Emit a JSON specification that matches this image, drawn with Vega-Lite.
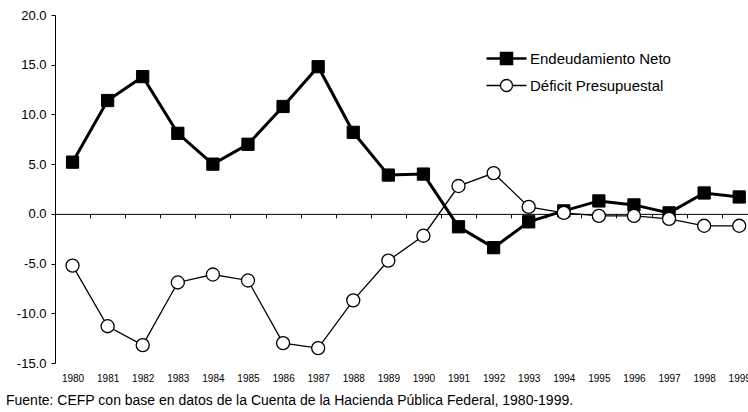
{
  "$schema": "https://vega.github.io/schema/vega-lite/v6.json",
  "width": 693,
  "height": 348,
  "autosize": {"type": "none"},
  "padding": {"left": 55, "top": 15, "right": 0, "bottom": 49},
  "background": "white",
  "title": {
    "text": "Fuente: CEFP con base en datos de la Cuenta de la Hacienda Pública Federal, 1980-1999.",
    "orient": "bottom",
    "anchor": "start",
    "frame": "group",
    "dx": -49,
    "offset": 11,
    "fontSize": 14,
    "fontWeight": "normal",
    "color": "black",
    "font": "Liberation Sans"
  },
  "data": {
    "values": [
      {"year": 1980, "serie": "Endeudamiento Neto", "value": 5.2},
      {"year": 1981, "serie": "Endeudamiento Neto", "value": 11.4},
      {"year": 1982, "serie": "Endeudamiento Neto", "value": 13.8},
      {"year": 1983, "serie": "Endeudamiento Neto", "value": 8.1},
      {"year": 1984, "serie": "Endeudamiento Neto", "value": 5.0},
      {"year": 1985, "serie": "Endeudamiento Neto", "value": 7.0},
      {"year": 1986, "serie": "Endeudamiento Neto", "value": 10.8},
      {"year": 1987, "serie": "Endeudamiento Neto", "value": 14.8},
      {"year": 1988, "serie": "Endeudamiento Neto", "value": 8.2},
      {"year": 1989, "serie": "Endeudamiento Neto", "value": 3.9},
      {"year": 1990, "serie": "Endeudamiento Neto", "value": 4.0},
      {"year": 1991, "serie": "Endeudamiento Neto", "value": -1.3},
      {"year": 1992, "serie": "Endeudamiento Neto", "value": -3.4},
      {"year": 1993, "serie": "Endeudamiento Neto", "value": -0.8},
      {"year": 1994, "serie": "Endeudamiento Neto", "value": 0.3},
      {"year": 1995, "serie": "Endeudamiento Neto", "value": 1.3},
      {"year": 1996, "serie": "Endeudamiento Neto", "value": 0.9},
      {"year": 1997, "serie": "Endeudamiento Neto", "value": 0.1},
      {"year": 1998, "serie": "Endeudamiento Neto", "value": 2.1},
      {"year": 1999, "serie": "Endeudamiento Neto", "value": 1.7},
      {"year": 1980, "serie": "Déficit Presupuestal", "value": -5.2},
      {"year": 1981, "serie": "Déficit Presupuestal", "value": -11.3},
      {"year": 1982, "serie": "Déficit Presupuestal", "value": -13.2},
      {"year": 1983, "serie": "Déficit Presupuestal", "value": -6.9},
      {"year": 1984, "serie": "Déficit Presupuestal", "value": -6.1},
      {"year": 1985, "serie": "Déficit Presupuestal", "value": -6.7},
      {"year": 1986, "serie": "Déficit Presupuestal", "value": -13.0},
      {"year": 1987, "serie": "Déficit Presupuestal", "value": -13.5},
      {"year": 1988, "serie": "Déficit Presupuestal", "value": -8.7},
      {"year": 1989, "serie": "Déficit Presupuestal", "value": -4.7},
      {"year": 1990, "serie": "Déficit Presupuestal", "value": -2.2},
      {"year": 1991, "serie": "Déficit Presupuestal", "value": 2.8},
      {"year": 1992, "serie": "Déficit Presupuestal", "value": 4.1},
      {"year": 1993, "serie": "Déficit Presupuestal", "value": 0.7},
      {"year": 1994, "serie": "Déficit Presupuestal", "value": 0.1},
      {"year": 1995, "serie": "Déficit Presupuestal", "value": -0.2},
      {"year": 1996, "serie": "Déficit Presupuestal", "value": -0.2},
      {"year": 1997, "serie": "Déficit Presupuestal", "value": -0.5},
      {"year": 1998, "serie": "Déficit Presupuestal", "value": -1.2},
      {"year": 1999, "serie": "Déficit Presupuestal", "value": -1.2}
    ]
  },
  "layer": [
    {
      "transform": [{"filter": "datum.serie === 'Endeudamiento Neto'"}],
      "mark": {"type": "line", "color": "black", "strokeWidth": 3},
      "encoding": {
        "x": {
          "field": "year", "type": "quantitative",
          "scale": {"domain": [1979.5, 1999.25], "nice": false, "zero": false},
          "axis": {
            "orient": "bottom",
            "values": [1980, 1981, 1982, 1983, 1984, 1985, 1986, 1987, 1988, 1989, 1990, 1991, 1992, 1993, 1994, 1995, 1996, 1997, 1998, 1999],
            "format": "d",
            "domain": false,
            "ticks": false,
            "grid": false,
            "title": null,
            "labelFontSize": 10,
            "labelPadding": 10,
            "labelColor": "black",
            "labelFlush": false,
            "labelOverlap": false
          }
        },
        "y": {"field": "value", "type": "quantitative", "scale": {"domain": [-15, 20], "nice": false, "zero": false}}
      }
    },
    {
      "transform": [{"filter": "datum.serie === 'Endeudamiento Neto'"}],
      "mark": {"type": "point", "shape": "square", "filled": true, "fill": "black", "size": 150, "stroke": "black", "strokeWidth": 1, "opacity": 1},
      "encoding": {
        "x": {"field": "year", "type": "quantitative", "axis": null},
        "y": {"field": "value", "type": "quantitative"}
      }
    },
    {
      "transform": [{"filter": "datum.serie === 'Déficit Presupuestal'"}],
      "mark": {"type": "line", "color": "black", "strokeWidth": 1.3},
      "encoding": {
        "x": {
          "field": "year", "type": "quantitative",
          "axis": {
            "orient": "bottom",
            "offset": -149.14,
            "values": [1980.5, 1981.5, 1982.5, 1983.5, 1984.5, 1985.5, 1986.5, 1987.5, 1988.5, 1989.5, 1990.5, 1991.5, 1992.5, 1993.5, 1994.5, 1995.5, 1996.5, 1997.5, 1998.5],
            "labels": false,
            "domain": true,
            "domainColor": "black",
            "domainWidth": 1,
            "ticks": true,
            "tickColor": "black",
            "tickSize": 4,
            "tickWidth": 1,
            "grid": false,
            "title": null
          }
        },
        "y": {"field": "value", "type": "quantitative"}
      }
    },
    {
      "transform": [{"filter": "datum.serie === 'Déficit Presupuestal'"}],
      "mark": {"type": "point", "shape": "circle", "filled": true, "fill": "white", "size": 170, "stroke": "black", "strokeWidth": 1.3, "opacity": 1},
      "encoding": {
        "x": {"field": "year", "type": "quantitative", "axis": null},
        "y": {"field": "value", "type": "quantitative"}
      }
    },
    {
      "mark": {"type": "point", "filled": true, "opacity": 0},
      "encoding": {
        "x": {"field": "year", "type": "quantitative", "axis": null},
        "y": {"field": "value", "type": "quantitative"},
        "shape": {
          "field": "serie", "type": "nominal",
          "scale": {
            "domain": ["Endeudamiento Neto", "Déficit Presupuestal"],
            "range": ["M-4,0H-1.1M1.1,0H4M-1.1,-1.1H1.1V1.1H-1.1Z", "M-4,0H-1.2M1.2,0H4M1.2,0A1.2,1.2,0,1,1,-1.2,0A1.2,1.2,0,1,1,1.2,0Z"]
          },
          "legend": {
            "title": null,
            "orient": "none",
            "legendX": 444,
            "legendY": 36,
            "symbolSize": 100,
            "symbolOpacity": 1,
            "labelFontSize": 15,
            "labelColor": "black",
            "labelFont": "Liberation Sans",
            "labelOffset": 16,
            "rowPadding": 7
          }
        },
        "fill": {
          "field": "serie", "type": "nominal",
          "scale": {"domain": ["Endeudamiento Neto", "Déficit Presupuestal"], "range": ["black", "white"]},
          "legend": {
            "title": null,
            "orient": "none",
            "legendX": 444,
            "legendY": 36,
            "symbolSize": 100,
            "symbolOpacity": 1,
            "labelFontSize": 15,
            "labelColor": "black",
            "labelFont": "Liberation Sans",
            "labelOffset": 16,
            "rowPadding": 7
          }
        },
        "stroke": {
          "field": "serie", "type": "nominal",
          "scale": {"domain": ["Endeudamiento Neto", "Déficit Presupuestal"], "range": ["black", "black"]},
          "legend": {
            "title": null,
            "orient": "none",
            "legendX": 444,
            "legendY": 36,
            "symbolSize": 100,
            "symbolOpacity": 1,
            "labelFontSize": 15,
            "labelColor": "black",
            "labelFont": "Liberation Sans",
            "labelOffset": 16,
            "rowPadding": 7
          }
        },
        "strokeWidth": {
          "field": "serie", "type": "nominal",
          "scale": {"type": "ordinal", "domain": ["Endeudamiento Neto", "Déficit Presupuestal"], "range": [2.5, 1.3]},
          "legend": {
            "title": null,
            "orient": "none",
            "legendX": 444,
            "legendY": 36,
            "symbolSize": 100,
            "symbolOpacity": 1,
            "labelFontSize": 15,
            "labelColor": "black",
            "labelFont": "Liberation Sans",
            "labelOffset": 16,
            "rowPadding": 7
          }
        }
      }
    }
  ],
  "resolve": {"axis": {"x": "independent"}},
  "config": {
    "view": {"stroke": null},
    "font": "Liberation Sans",
    "axisY": {
      "values": [-15, -10, -5, 0, 5, 10, 15, 20],
      "labelExpr": "replace(format(datum.value, '.1f'), '\u2212', '-')",
      "tickSize": 4,
      "tickColor": "black",
      "domainColor": "black",
      "labelColor": "black",
      "labelFontSize": 13,
      "labelPadding": 5,
      "grid": false,
      "title": null
    }
  }
}
